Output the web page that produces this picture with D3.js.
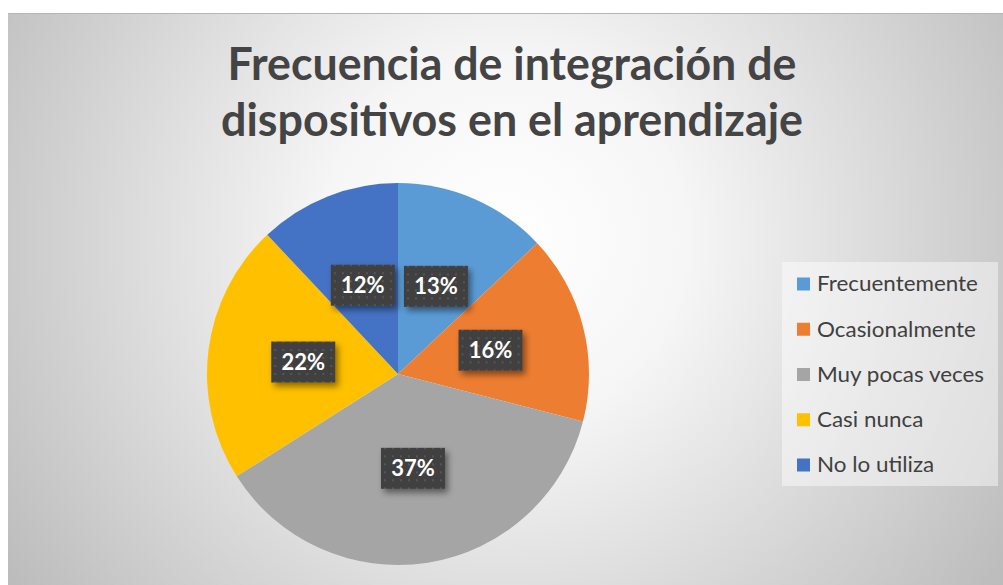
<!DOCTYPE html>
<html>
<head>
<meta charset="utf-8">
<script src="https://cdn.jsdelivr.net/npm/d3@7"></script>
<style>
  html, body { margin: 0; padding: 0; background: #fff; }
  svg { display: block; }
</style>
</head>
<body>
<div id="chart"></div>
<script>
// datos del gráfico
var categories = ["Frecuentemente", "Ocasionalmente", "Muy pocas veces", "Casi nunca", "No lo utiliza"];
var values = [13, 16, 37, 22, 12];
var colors = ["#5B9BD5", "#ED7D31", "#A5A5A5", "#FFC000", "#4472C4"];
var titleLines = ["Frecuencia de integración de", "dispositivos en el aprendizaje"];

var width = 1003, height = 585;
var font = "Lato, 'Open Sans', sans-serif";

var svg = d3.select("#chart").append("svg")
    .attr("width", width)
    .attr("height", height);

var defs = svg.append("defs");

// fondo con degradado radial
var grad = defs.append("radialGradient")
    .attr("id", "bg")
    .attr("gradientUnits", "userSpaceOnUse")
    .attr("cx", 505).attr("cy", 240).attr("r", 600);
grad.append("stop").attr("offset", 0).attr("stop-color", "#ffffff");
grad.append("stop").attr("offset", 0.3).attr("stop-color", "#f6f6f6");
grad.append("stop").attr("offset", 1).attr("stop-color", "#bcbcbc");

// textura de puntos de las etiquetas
var pat = defs.append("pattern")
    .attr("id", "dots")
    .attr("patternUnits", "userSpaceOnUse")
    .attr("width", 8).attr("height", 8);
pat.append("rect").attr("width", 8).attr("height", 8).attr("fill", "#404040");
pat.append("rect").attr("x", 3).attr("y", 3).attr("width", 2).attr("height", 2).attr("fill", "#565656");

var shadow = defs.append("filter")
    .attr("id", "shadow")
    .attr("x", "-30%").attr("y", "-30%")
    .attr("width", "170%").attr("height", "170%");
shadow.append("feDropShadow")
    .attr("dx", 3).attr("dy", 4)
    .attr("stdDeviation", 3)
    .attr("flood-color", "#000")
    .attr("flood-opacity", 0.45);

svg.append("rect")
    .attr("x", 8).attr("y", 13)
    .attr("width", width - 8).attr("height", height - 13)
    .attr("fill", "url(#bg)");
svg.append("line")
    .attr("x1", 8).attr("x2", width)
    .attr("y1", 13.5).attr("y2", 13.5)
    .attr("stroke", "#b5b5b5");

// estrecha el texto horizontalmente hasta el ancho dado (Calibri es más estrecha)
function squeeze(sel, x, target) {
    var w = sel.node().getComputedTextLength();
    var s = target / w;
    sel.attr("transform", "translate(" + x + ",0) scale(" + s + ",1) translate(" + (-x) + ",0)");
    return s;
}

// título
var title = svg.append("g");
var titleWidths = [569, 582];
var titleBase = [80, 136];
titleLines.forEach(function(t, i) {
    var tx = title.append("text")
        .attr("x", 512)
        .attr("y", titleBase[i])
        .attr("text-anchor", "middle")
        .attr("font-family", font)
        .attr("font-weight", "bold")
        .attr("font-size", 45)
        .attr("fill", "#444444")
        .text(t);
    squeeze(tx, 512, titleWidths[i]);
});

// pastel
var cx = 398, cy = 374, radius = 191;
var pie = d3.pie().sort(null).value(function(d) { return d; });
var arcs = pie(values);
var arc = d3.arc().innerRadius(0).outerRadius(radius);
var labelArc = d3.arc().innerRadius(radius * 0.5).outerRadius(radius * 0.5);

var g = svg.append("g").attr("transform", "translate(" + cx + "," + cy + ")");

g.selectAll(".slice")
    .data(arcs)
    .enter().append("path")
    .attr("class", "slice")
    .attr("d", arc)
    .attr("fill", function(d, i) { return colors[i]; });

var bw = 64, bh = 41;
var lab = g.selectAll(".lab")
    .data(arcs)
    .enter().append("g")
    .attr("class", "lab")
    .attr("transform", function(d) {
        var c = labelArc.centroid(d);
        return "translate(" + c[0] + "," + c[1] + ")";
    });

lab.append("rect")
    .attr("x", -bw / 2).attr("y", -bh / 2)
    .attr("width", bw).attr("height", bh)
    .attr("fill", "url(#dots)")
    .attr("filter", "url(#shadow)");

lab.append("text")
    .attr("text-anchor", "middle")
    .attr("dy", "0.36em")
    .attr("font-family", font)
    .attr("font-weight", "bold")
    .attr("font-size", 22)
    .attr("fill", "#ffffff")
    .text(function(d) { return d.data + "%"; });

// leyenda
var legend = svg.append("g");
legend.append("rect")
    .attr("x", 782).attr("y", 262)
    .attr("width", 216).attr("height", 224)
    .attr("fill", "#ffffff")
    .attr("fill-opacity", 0.45);

var ly = d3.scalePoint()
    .domain(categories)
    .range([284, 465]);

var items = legend.selectAll(".item")
    .data(categories)
    .enter().append("g")
    .attr("class", "item")
    .attr("transform", function(d) { return "translate(797," + ly(d) + ")"; });

items.append("rect")
    .attr("x", 0).attr("y", -6.5)
    .attr("width", 13).attr("height", 13)
    .attr("fill", function(d, i) { return colors[i]; });

var ltexts = items.append("text")
    .attr("x", 20)
    .attr("dy", "0.35em")
    .attr("font-family", font)
    .attr("font-size", 21)
    .attr("fill", "#404040")
    .text(function(d) { return d; });

// misma escala horizontal para toda la leyenda: "Frecuentemente" ~161px
var s0 = squeeze(d3.select(ltexts.nodes()[0]), 20, 161);
ltexts.attr("transform", "translate(20,0) scale(" + s0 + ",1) translate(-20,0)");
</script>
</body>
</html>
